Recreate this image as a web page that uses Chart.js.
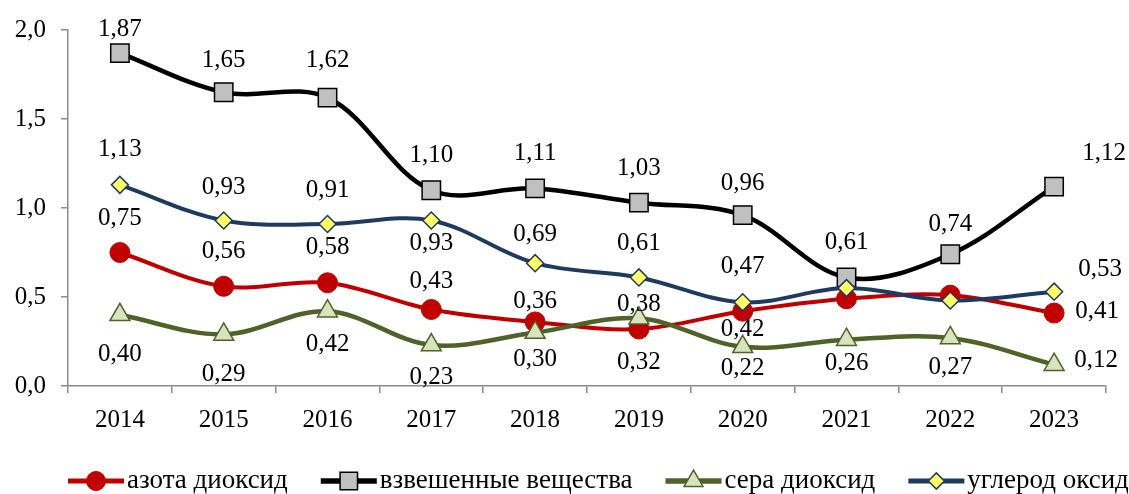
<!DOCTYPE html>
<html>
<head>
<meta charset="utf-8">
<script src="https://cdn.jsdelivr.net/npm/chart.js@4.4.0/dist/chart.umd.min.js"></script>
<style>
  html,body{margin:0;padding:0;background:#fff;overflow:hidden;}
  #c{display:block;}
</style>
</head>
<body>
<canvas id="c" width="1129" height="494"></canvas>
<script>
// ---- data ----
const years = ['2014','2015','2016','2017','2018','2019','2020','2021','2022','2023'];
const seriesNames = ['азота диоксид','взвешенные вещества','сера диоксид','углерод оксид'];
const no2   = [0.75,0.56,0.58,0.43,0.36,0.32,0.42,0.49,0.51,0.41];
const dust  = [1.87,1.65,1.62,1.10,1.11,1.03,0.96,0.61,0.74,1.12];
const so2   = [0.40,0.29,0.42,0.23,0.30,0.38,0.22,0.26,0.27,0.12];
const co    = [1.13,0.93,0.91,0.93,0.69,0.61,0.47,0.55,0.48,0.53];
const yTicks = [0,0.5,1.0,1.5,2.0];

// ---- label placement (dx, dy from point; null = no label) ----
const labelPlace = [
  [[0,-34],[0,-35],[0,-35],[0,-28],[0,-20],[0,33],[0,18],null,null,[43,-2]],
  [[0,-24],[0,-32],[0,-37],[0,-35],[0,-35],[0,-34],[0,-32],[0,-35],[0,-30],[50,-33]],
  [[0,40],[0,40],[0,33],[0,32],[0,27],[0,-14],[0,22],[0,24],[0,29],[42,-4]],
  [[0,-35],[0,-33],[0,-34],[0,23],[0,-29],[0,-34],[0,-36],null,null,[46,-22]]
];

const FONT = "'Liberation Serif','Times New Roman',serif";
const fmt2 = v => v.toFixed(2).replace('.', ',');
const fmt1 = v => v.toFixed(1).replace('.', ',');

const styles = [
  {line:'#C00000', fill:'#C00000', border:'#C00000', point:'circle',  r:10,   lw:4,   bw:1},
  {line:'#000000', fill:'#C0C0C0', border:'#000000', point:'rect',    r:13,   lw:4.5, bw:1.5},
  {line:'#4F6228', fill:'#D7E4BD', border:'#4F6228', point:'triangle',r:11.5, lw:4.5, bw:1.5},
  {line:'#1F3A60', fill:'#FFFF66', border:'#1F3A60', point:'rectRot', r:8.5,  lw:4,   bw:1.5}
];
const seriesData = [no2, dust, so2, co];
const drawOrder = [3,2,1,0];

const datasets = seriesData.map((d,i)=>({
  label: seriesNames[i],
  data: d,
  borderColor: styles[i].line,
  borderWidth: styles[i].lw,
  backgroundColor: styles[i].fill,
  pointStyle: styles[i].point,
  pointRadius: styles[i].r,
  pointHoverRadius: styles[i].r,
  pointBackgroundColor: styles[i].fill,
  pointBorderColor: styles[i].border,
  pointBorderWidth: styles[i].bw,
  tension: 0.35,
  fill: false,
  order: drawOrder[i],
  clip: false
}));

const labelsPlugin = {
  id: 'valLabels',
  afterDatasetsDraw(chart) {
    const ctx = chart.ctx;
    ctx.save();
    ctx.font = "25px " + FONT;
    ctx.fillStyle = '#000';
    ctx.textAlign = 'center';
    ctx.textBaseline = 'middle';
    chart.data.datasets.forEach((ds, i) => {
      const meta = chart.getDatasetMeta(i);
      meta.data.forEach((pt, j) => {
        const p = labelPlace[i][j];
        if (!p) return;
        ctx.fillText(fmt2(ds.data[j]), pt.x + p[0], pt.y + p[1]);
      });
    });
    ctx.restore();
  }
};

const legendPlugin = {
  id: 'customLegend',
  afterDraw(chart) {
    const ctx = chart.ctx;
    ctx.save();
    ctx.font = "27px " + FONT;
    ctx.textBaseline = 'middle';
    ctx.textAlign = 'left';
    let x = 68;
    const y = 481;
    const lineLen = 56;
    chart.data.datasets.forEach((ds, i) => {
      const s = styles[i];
      ctx.strokeStyle = s.line;
      ctx.lineWidth = s.lw + 1;
      ctx.beginPath();
      ctx.moveTo(x, y);
      ctx.lineTo(x + lineLen, y);
      ctx.stroke();
      ctx.fillStyle = s.fill;
      ctx.strokeStyle = s.border;
      ctx.lineWidth = s.bw;
      Chart.helpers.drawPoint(ctx, {pointStyle: s.point, radius: s.r * 0.95, rotation: 0, borderWidth: s.bw}, x + lineLen/2, y);
      ctx.fillStyle = '#000';
      const tx = x + lineLen + 3;
      ctx.fillText(ds.label, tx, y);
      x = tx + ctx.measureText(ds.label).width + 33;
    });
    ctx.restore();
  }
};

new Chart(document.getElementById('c'), {
  type: 'line',
  data: { labels: years, datasets },
  options: {
    responsive: false,
    animation: false,
    devicePixelRatio: 1,
    layout: { padding: { top: 28, right: 23, left: 0, bottom: 0 } },
    plugins: { legend: { display: false }, tooltip: { enabled: false } },
    scales: {
      x: {
        offset: true,
        grid: { display: true, drawOnChartArea: false, drawTicks: true, tickLength: 7, color: '#8C8C8C', lineWidth: 1.5, offset: true },
        border: { display: true, color: '#8C8C8C', width: 1.5 },
        ticks: { color: '#000', font: { family: FONT, size: 25 }, padding: 12, maxRotation: 0 },
        afterFit(s) { s.height = 108; }
      },
      y: {
        min: 0, max: 2,
        afterBuildTicks(s) { s.ticks = yTicks.map(v => ({value: v})); },
        grid: { display: true, drawOnChartArea: false, drawTicks: true, tickLength: 7, color: '#8C8C8C', lineWidth: 1.5 },
        border: { display: true, color: '#8C8C8C', width: 1.5 },
        ticks: { color: '#000', font: { family: FONT, size: 25 }, padding: 15, callback: v => fmt1(v) },
        afterFit(s) { s.width = 68; }
      }
    }
  },
  plugins: [labelsPlugin, legendPlugin]
});
</script>
</body>
</html>
